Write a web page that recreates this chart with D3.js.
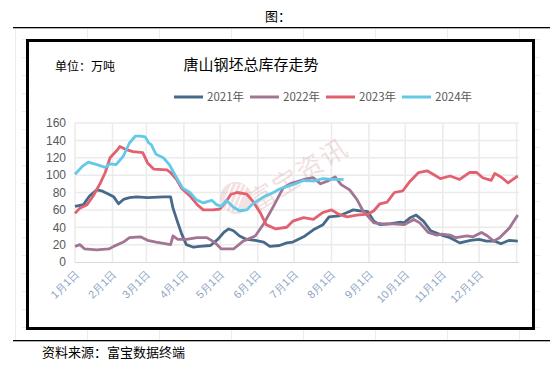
<!DOCTYPE html>
<html><head><meta charset="utf-8">
<script src="https://cdn.jsdelivr.net/npm/d3@7"></script>
<style>
html,body{margin:0;padding:0;background:#fff;}
svg{display:block;font-family:"Noto Sans CJK SC","Noto Sans",sans-serif;}
</style></head>
<body><svg id="c" width="557" height="368"></svg>
<script>
// ---- data (day offset from Jan 1, value in 万吨) ----
const seriesNames = ["2021年","2022年","2023年","2024年"];
const seriesColors = ["#476a8b","#a27592","#e2606f","#62c9e9"];
const monthLabels = ["1月1日","2月1日","3月1日","4月1日","5月1日","6月1日","7月1日","8月1日","9月1日","10月1日","11月1日","12月1日"];
const yTicks = [0,20,40,60,80,100,120,140,160];

const days2021 = [0,7,12,18,22,32,36,40,45,51,60,73,79,81,85,88,92,98,103,112,118,123,127,131,136,142,149,156,161,169,175,180,189,197,205,210,218,225,230,235,242,247,252,260,269,272,277,282,288,294,303,310,318,327,334,340,347,352,359,366];
const vals2021 = [64,66,76,83,82,75,67,72,74,75,74,75,75,62,45,33,20,17,18,19,26,34,38,36,30,26,25,23,18,19,22,23,29,37,43,52,53,57,60,59,58,47,43,44,46,45,51,54,47,36,31,28,22,25,26,24,24,21,25,24];

const days2022 = [0,4,8,18,28,32,40,45,54,60,67,79,81,85,92,101,109,116,121,131,139,149,156,164,172,178,189,197,203,210,215,220,227,233,238,242,247,255,263,272,280,285,292,299,303,310,315,324,329,336,341,346,351,359,366];
const vals2022 = [18,20,15,14,15,18,23,28,29,25,23,20,30,26,26,28,28,22,15,15,24,30,44,64,85,90,95,97,90,94,98,89,83,72,59,53,45,44,44,43,49,45,34,31,32,31,28,30,29,34,30,24,28,39,54];

const days2023 = [0,4,10,15,21,25,29,33,35,37,43,48,56,60,65,76,79,84,88,95,101,106,114,120,125,129,134,142,147,153,158,166,175,180,189,197,205,212,218,225,233,242,247,252,258,264,271,277,284,291,296,302,310,318,326,332,337,344,347,353,358,362,366];
const vals2023 = [56,62,66,76,91,103,120,126,129,133,129,127,126,114,107,106,103,95,85,76,66,60,60,61,70,78,80,78,70,57,43,38,40,47,51,49,57,60,55,52,54,55,59,67,69,80,82,93,103,105,101,96,99,95,103,103,97,94,102,97,91,95,99];

const days2024 = [0,6,11,18,25,29,34,40,45,50,54,58,61,63,67,73,78,84,89,95,100,106,113,117,121,125,131,136,142,147,156,164,169,180,189,197,205,213,222];
const vals2024 = [101,110,115,112,109,113,112,122,137,145,145,144,137,135,124,120,112,97,85,80,72,68,71,66,64,71,63,59,60,67,75,80,84,89,94,93,96,95,95];

const dayArrays = [days2021,days2022,days2023,days2024];
const valArrays = [vals2021,vals2022,vals2023,vals2024];

// ---- drawing ----
const svg = d3.select("#c");
const base = new Date(2021,0,1);
const toDate = d => new Date(2021,0,1+d);

// faint spreadsheet grid behind
const sheet = svg.append("g").attr("stroke","#ececec").attr("stroke-width",1);
d3.range(15,540,72).forEach(x=>sheet.append("line").attr("x1",x+0.5).attr("x2",x+0.5).attr("y1",29).attr("y2",340));
d3.range(39,340,18).forEach(y=>sheet.append("line").attr("x1",22).attr("x2",540).attr("y1",y+0.5).attr("y2",y+0.5));

// header / footer lines
svg.append("rect").attr("x",13).attr("y",27).attr("width",537).attr("height",1.3).attr("fill","#000");
svg.append("rect").attr("x",13).attr("y",340).attr("width",537).attr("height",1.3).attr("fill","#000");
svg.append("text").attr("x",278).attr("y",21).attr("text-anchor","middle").attr("font-size",13).attr("fill","#000").text("图：");
svg.append("text").attr("x",42).attr("y",357).attr("font-size",13).attr("fill","#000").text("资料来源：富宝数据终端");

// chart box
svg.append("rect").attr("x",27.5).attr("y",40.5).attr("width",506).attr("height",288).attr("fill","#fff").attr("stroke","#000").attr("stroke-width",3);

const x = d3.scaleTime().domain([base,new Date(2022,0,3)]).range([75,519]);
const y = d3.scaleLinear().domain([0,160]).range([262,123]);

// grid
const g = svg.append("g");
g.selectAll("line.h").data(yTicks.slice(1)).join("line")
  .attr("x1",75).attr("x2",519).attr("y1",d=>y(d)).attr("y2",d=>y(d))
  .attr("stroke","#ebebeb").attr("stroke-width",1.5);
const monthDates = d3.range(0,13).map(m=>new Date(2021,m,1));
g.selectAll("line.v").data(monthDates).join("line")
  .attr("x1",d=>x(d)).attr("x2",d=>x(d)).attr("y1",123).attr("y2",262)
  .attr("stroke","#ebebeb").attr("stroke-width",1.5);

// y axis
const ya = d3.axisLeft(y).tickValues(yTicks).tickSize(0).tickPadding(9);
svg.append("g").attr("transform","translate(75,0)").call(ya)
  .call(s=>s.select(".domain").remove())
  .selectAll("text").attr("font-size",12).attr("fill","#595959").attr("font-family","Liberation Sans, Arial, sans-serif");

// x axis line
svg.append("line").attr("x1",75).attr("x2",519).attr("y1",262.5).attr("y2",262.5).attr("stroke","#d9d9d9").attr("stroke-width",1.2);

// x labels
const xa = d3.axisBottom(x).tickValues(monthDates.slice(0,12)).tickSize(0).tickFormat((d,i)=>monthLabels[i]);
const xg = svg.append("g").attr("transform","translate(0,262)").call(xa);
xg.select(".domain").remove();
xg.selectAll("text").attr("font-size",11).attr("fill","#8da3c2")
  .attr("text-anchor","end").attr("dy",0).attr("y",0)
  .attr("transform","translate(4,13) rotate(-45)");

// watermark
const wm = svg.append("g").attr("opacity",0.3);
wm.append("circle").attr("cx",236).attr("cy",198).attr("r",16).attr("fill","#d9a0a0");
[ -8,-3,2,7].forEach(o=>wm.append("line").attr("x1",228+o).attr("y1",212).attr("x2",240+o).attr("y2",184).attr("stroke","#fff").attr("stroke-width",1.6));
wm.append("text").attr("transform","translate(256,212) rotate(-32)").attr("font-size",26).attr("fill","#d49a9a").attr("letter-spacing",2).text("富宝资讯");

// lines
const line = d3.line().x(d=>x(toDate(d[0]))).y(d=>y(d[1])).curve(d3.curveLinear);
seriesNames.forEach((n,i)=>{
  const pts = dayArrays[i].map((d,j)=>[d,valArrays[i][j]]);
  svg.append("path").datum(pts).attr("d",line).attr("fill","none")
    .attr("stroke",seriesColors[i]).attr("stroke-width",2.8).attr("stroke-linejoin","round");
});

// titles
svg.append("text").attr("x",55).attr("y",71).attr("font-size",12).attr("fill","#000").text("单位：万吨");
svg.append("text").attr("x",251).attr("y",70).attr("text-anchor","middle").attr("font-size",15).attr("fill","#000").text("唐山钢坯总库存走势");

// legend
const lg = svg.append("g");
seriesNames.forEach((n,i)=>{
  const lx = 174 + i*76;
  lg.append("line").attr("x1",lx).attr("x2",lx+29).attr("y1",97).attr("y2",97).attr("stroke",seriesColors[i]).attr("stroke-width",3);
  lg.append("text").attr("x",lx+33).attr("y",101).attr("font-size",11.5).attr("fill","#595959").text(n);
});
</script></body></html>
